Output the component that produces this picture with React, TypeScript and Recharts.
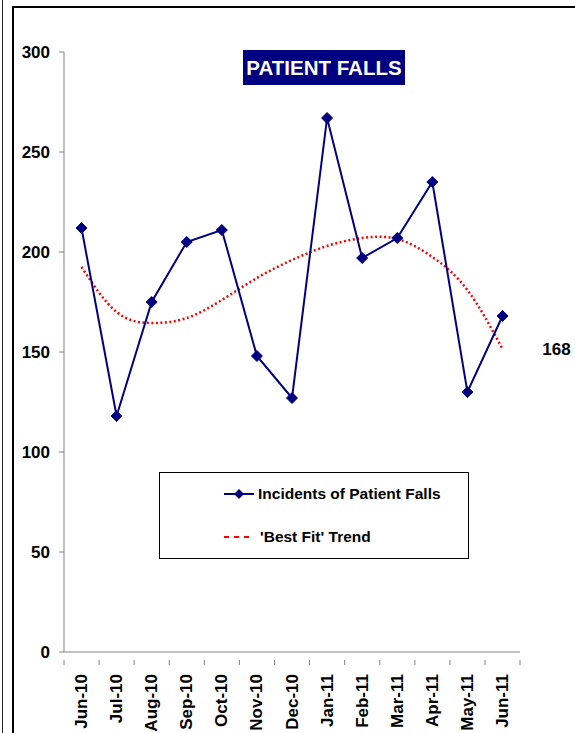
import React from "react";
import { LineChart, Line, XAxis, YAxis } from "recharts";

const months = [
  "Jun-10", "Jul-10", "Aug-10", "Sep-10", "Oct-10", "Nov-10", "Dec-10",
  "Jan-11", "Feb-11", "Mar-11", "Apr-11", "May-11", "Jun-11",
];
const falls = [212, 118, 175, 205, 211, 148, 127, 267, 197, 207, 235, 130, 168];
const trend = [192.5, 170, 164.5, 167, 176, 187, 196, 203, 207, 206.5, 197.5, 181, 151.5];
const yTicks = [0, 50, 100, 150, 200, 250, 300];

const data = months.map((m, i) => ({ month: m, falls: falls[i], trend: trend[i] }));

const FONT = "'Liberation Sans', Arial, sans-serif";
const NAVY = "#000080";
const HALF_BAND = 17.5;

const Diamond = (props: any) => {
  const { cx, cy } = props;
  if (cx == null || cy == null) return null;
  const r = 5.5;
  return (
    <polygon
      points={`${cx},${cy - r} ${cx + r},${cy} ${cx},${cy + r} ${cx - r},${cy}`}
      fill={NAVY}
      stroke={NAVY}
    />
  );
};

const XTick = (props: any) => {
  const { x, y, payload, index } = props;
  const ty = y + 14;
  return (
    <g>
      <line x1={x - HALF_BAND} y1={y} x2={x - HALF_BAND} y2={y + 5} stroke="#808080" />
      {index === months.length - 1 && (
        <line x1={x + HALF_BAND} y1={y} x2={x + HALF_BAND} y2={y + 5} stroke="#808080" />
      )}
      <text
        x={x}
        y={ty}
        transform={`rotate(-90 ${x} ${ty})`}
        textAnchor="end"
        dominantBaseline="central"
        fontFamily={FONT}
        fontWeight="bold"
        fontSize={17}
        fill="#000"
      >
        {payload.value}
      </text>
    </g>
  );
};

const LastLabel = (props: any) => {
  const { x, y, index, value } = props;
  if (index !== falls.length - 1) return null;
  return (
    <text
      x={x + 54}
      y={y + 33}
      textAnchor="middle"
      dominantBaseline="central"
      fontFamily={FONT}
      fontWeight="bold"
      fontSize={17}
      fill="#000"
    >
      {value}
    </text>
  );
};

const LegendBox = () => (
  <div
    style={{
      position: "absolute",
      left: 159,
      top: 472,
      width: 310,
      height: 87,
      border: "1px solid #000",
      background: "#fff",
      fontFamily: FONT,
      fontWeight: "bold",
      fontSize: 15.5,
      boxSizing: "border-box",
    }}
  >
    <div style={{ position: "absolute", left: 64, top: 12, display: "flex", alignItems: "center" }}>
      <svg width={32} height={12}>
        <line x1={0} y1={6} x2={30} y2={6} stroke={NAVY} strokeWidth={2} />
        <polygon points="15,1 20,6 15,11 10,6" fill={NAVY} />
      </svg>
      <span style={{ marginLeft: 2 }}>Incidents of Patient Falls</span>
    </div>
    <div style={{ position: "absolute", left: 64, top: 55, display: "flex", alignItems: "center" }}>
      <svg width={32} height={12}>
        <line x1={0} y1={6} x2={30} y2={6} stroke="#ff0000" strokeWidth={2} strokeDasharray="5 5" />
      </svg>
      <span style={{ marginLeft: 4 }}>'Best Fit' Trend</span>
    </div>
  </div>
);

export default function App() {
  return (
    <div style={{ position: "absolute", left: 0, top: 0, width: 575, height: 733, background: "#fff", overflow: "hidden" }}>
      <div style={{ position: "absolute", left: 2, top: 0, width: 1, height: 733, background: "#222" }} />
      <div style={{ position: "absolute", left: 12, top: 6, width: 570, height: 740, borderLeft: "2px solid #000", borderTop: "2px solid #000" }} />
      <div style={{ position: "absolute", left: 0, top: 0 }}>
        <LineChart
          width={575}
          height={733}
          data={data}
          margin={{ top: 52, right: 55, bottom: 0, left: 0 }}
        >
          <XAxis
            dataKey="month"
            height={81}
            stroke="#808080"
            tick={<XTick />}
            tickLine={false}
            interval={0}
            padding={{ left: HALF_BAND, right: HALF_BAND }}
          />
          <YAxis
            width={64}
            domain={[0, 300]}
            ticks={yTicks}
            stroke="#808080"
            tickSize={5}
            tick={{ fill: "#000", fontFamily: FONT, fontWeight: "bold", fontSize: 17 }}
            tickMargin={9}
          />
          <Line
            dataKey="trend"
            type="natural"
            stroke="#ff0000"
            strokeWidth={2.5}
            strokeDasharray="2 2.5"
            dot={false}
            activeDot={false}
            isAnimationActive={false}
          />
          <Line
            dataKey="falls"
            type="linear"
            stroke={NAVY}
            strokeWidth={2}
            dot={<Diamond />}
            activeDot={false}
            label={<LastLabel />}
            isAnimationActive={false}
          />
        </LineChart>
      </div>
      <LegendBox />
      <div
        style={{
          position: "absolute",
          left: 243,
          top: 50,
          width: 162,
          height: 35,
          background: NAVY,
          color: "#fff",
          fontFamily: FONT,
          fontWeight: "bold",
          fontSize: 20.5,
          display: "flex",
          alignItems: "center",
          justifyContent: "center",
        }}
      >
        PATIENT FALLS
      </div>
    </div>
  );
}
